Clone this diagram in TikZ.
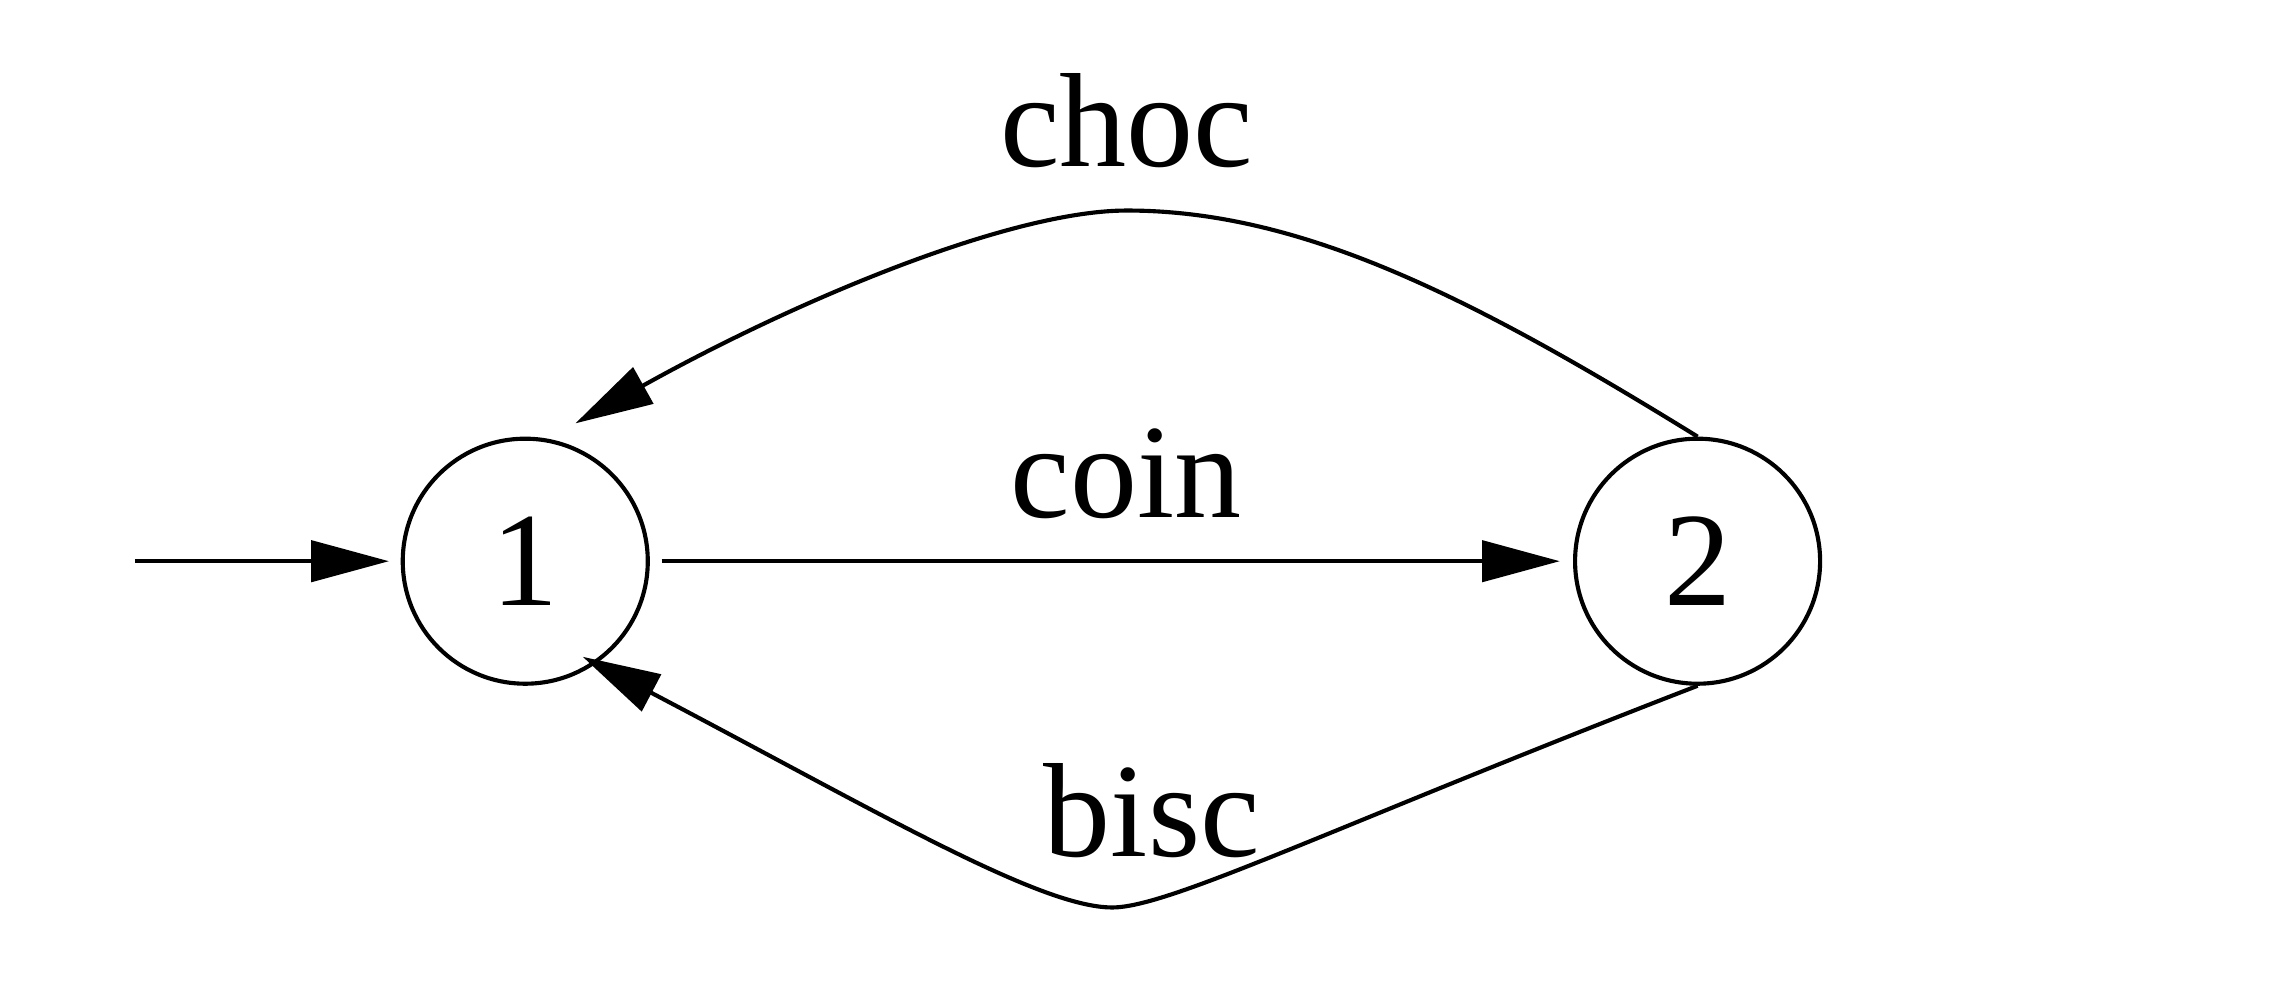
\documentclass[tikz,border=0pt]{standalone}
\usepackage{fontspec}
\setmainfont{Liberation Serif}
\usetikzlibrary{shapes, arrows, arrows.meta}

\begin{document}
\begin{tikzpicture}[font=\fontsize{26}{30}\selectfont, line width=0.8pt, >={Triangle[length=5.3mm, width=2.8mm]}]
\useasboundingbox (0, 0) rectangle (15.56, 6.815);
\node[draw, circle, minimum size=1.67cm, inner sep=0pt] (n1) at (3.58, 2.99) {1};
\node[draw, circle, minimum size=1.67cm, inner sep=0pt] (n2) at (11.57, 2.99) {2};
\coordinate (n0) at (0.92, 2.99);
\coordinate (c1) at (7.68, 5.38);
\coordinate (c2) at (7.58, 0.63);

\draw[->, shorten >=0.8mm] (n0) -- (n1);
\draw[->, shorten <=0.8mm, shorten >=0.9mm] (n1) -- node[midway, anchor=base, yshift=3mm, xshift=1mm] {coin} (n2);
\draw[->] (n2.north) .. controls (10.03, 4.79) and (8.87, 5.38) .. (c1) node[anchor=base, yshift=3mm] {choc}
  .. controls (6.88, 5.38) and (5.41, 4.76) .. ([shift={(70:1)}]n1.center);
\draw[->] (n2.south) .. controls (9.06, 1.17) and (7.97, 0.63) .. (c2) node[anchor=base, xshift=2.7mm, yshift=3.5mm] {bisc}
  .. controls (7.08, 0.63) and (5.95, 1.30) .. ([shift={(-59:0.76)}]n1.center);
\end{tikzpicture}
\end{document}
